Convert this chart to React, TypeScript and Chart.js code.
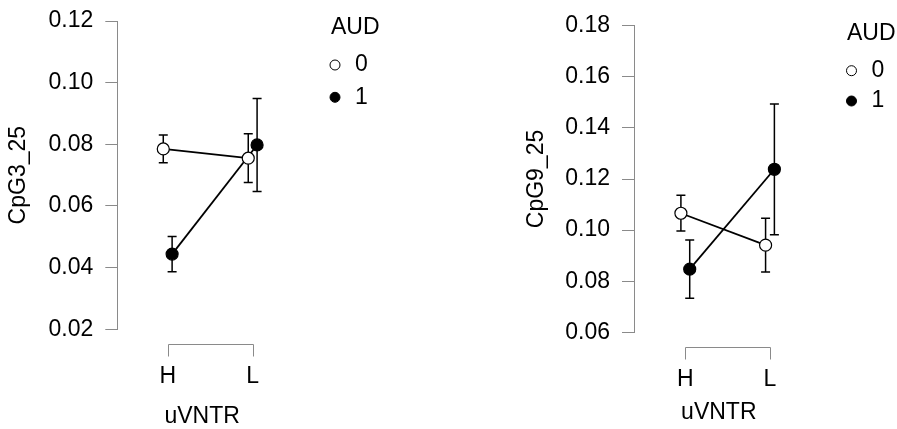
import React, { useEffect, useRef } from 'react';
import { Chart, registerables } from 'chart.js';

Chart.register(...registerables);

const FONT = '"Liberation Sans", Arial, Helvetica, sans-serif';
Chart.defaults.font.family = FONT;

// ---------- data ----------
const CATEGORIES = ['H', 'L'];
const GROUP_LABELS = ['0', '1'];
const LEGEND_TITLE = 'AUD';
const X_TITLE = 'uVNTR';

// Panel 1: CpG3_25
const CPG3_TITLE = 'CpG3_25';
const CPG3_TICKS = [0.02, 0.04, 0.06, 0.08, 0.1, 0.12];
const CPG3_AUD0_MEAN = [0.0785, 0.0755];
const CPG3_AUD0_ERR = [0.0045, 0.0079];
const CPG3_AUD1_MEAN = [0.0444, 0.0798];
const CPG3_AUD1_ERR = [0.0057, 0.0151];

// Panel 2: CpG9_25
const CPG9_TITLE = 'CpG9_25';
const CPG9_TICKS = [0.06, 0.08, 0.1, 0.12, 0.14, 0.16, 0.18];
const CPG9_AUD0_MEAN = [0.1066, 0.0941];
const CPG9_AUD0_ERR = [0.007, 0.0105];
const CPG9_AUD1_MEAN = [0.0847, 0.1238];
const CPG9_AUD1_ERR = [0.0114, 0.0256];

// ---------- styling / layout ----------
const DODGE = 0.052;
const TEXT = '#000000';
const AXIS = '#8a8a8a';
const FS = 23;
const H = 429;

const PANELS = [
  {
    left: 0, width: 449,
    yTitle: CPG3_TITLE, ticks: CPG3_TICKS,
    means: [CPG3_AUD0_MEAN, CPG3_AUD1_MEAN], errs: [CPG3_AUD0_ERR, CPG3_AUD1_ERR],
    padL: 0, padT: 21, padR: 162, yWidth: 117.3, xHeight: 99.7,
    xMin: 0.407, xMax: 2.404, xTickPad: 36.2, xTitlePadB: 0.5,
    legend: { titleX: 331, titleY: 27.7, markerX: 335, textX: 355, itemY: 65, itemGap: 32.3 },
  },
  {
    left: 449, width: 448,
    yTitle: CPG9_TITLE, ticks: CPG9_TICKS,
    means: [CPG9_AUD0_MEAN, CPG9_AUD1_MEAN], errs: [CPG9_AUD0_ERR, CPG9_AUD1_ERR],
    padL: 69.3, padT: 25.7, padR: 93.4, yWidth: 115.7, xHeight: 96.7,
    xMin: 0.394, xMax: 2.397, xTickPad: 36.2, xTitlePadB: 5,
    legend: { titleX: 398, titleY: 33.3, markerX: 402.5, textX: 422.5, itemY: 70.7, itemGap: 30.3 },
  },
];

// ---------- plugins ----------
const errorBarPlugin = {
  id: 'errorBars',
  beforeDatasetsDraw(chart: any, _args: any, opts: any) {
    const ctx = chart.ctx;
    const yScale = chart.scales.y;
    ctx.save();
    ctx.strokeStyle = opts.color;
    ctx.lineWidth = opts.lineWidth;
    chart.data.datasets.forEach((ds: any, i: number) => {
      const meta = chart.getDatasetMeta(i);
      if (!ds.errors) return;
      meta.data.forEach((pt: any, j: number) => {
        const v = ds.data[j].y;
        const e = ds.errors[j];
        const x = pt.x;
        const yTop = yScale.getPixelForValue(v + e);
        const yBot = yScale.getPixelForValue(v - e);
        ctx.beginPath();
        ctx.moveTo(x, yTop);
        ctx.lineTo(x, yBot);
        ctx.moveTo(x - opts.capHalf, yTop);
        ctx.lineTo(x + opts.capHalf, yTop);
        ctx.moveTo(x - opts.capHalf, yBot);
        ctx.lineTo(x + opts.capHalf, yBot);
        ctx.stroke();
      });
    });
    ctx.restore();
  },
};

const bracketPlugin = {
  id: 'axisBracket',
  afterDraw(chart: any, _args: any, opts: any) {
    const ctx = chart.ctx;
    const xs = chart.scales.x;
    const t = xs.ticks;
    if (!t || !t.length) return;
    const x1 = Math.round(xs.getPixelForValue(t[0].value)) + 0.5;
    const x2 = Math.round(xs.getPixelForValue(t[t.length - 1].value)) + 0.5;
    const y = Math.round(chart.chartArea.bottom + opts.offset) + 0.5;
    ctx.save();
    ctx.strokeStyle = opts.color;
    ctx.lineWidth = 1;
    ctx.beginPath();
    ctx.moveTo(x1, y + opts.tickLength);
    ctx.lineTo(x1, y);
    ctx.lineTo(x2, y);
    ctx.lineTo(x2, y + opts.tickLength);
    ctx.stroke();
    ctx.restore();
  },
};

const groupLegendPlugin = {
  id: 'groupLegend',
  afterDraw(chart: any, _args: any, opts: any) {
    const ctx = chart.ctx;
    ctx.save();
    ctx.font = `${opts.fontSize}px ${FONT}`;
    ctx.textBaseline = 'middle';
    ctx.textAlign = 'left';
    ctx.fillStyle = opts.color;
    ctx.fillText(opts.text, opts.titleX, opts.titleY);
    chart.data.datasets.forEach((ds: any, i: number) => {
      const y = opts.itemY + i * opts.itemGap;
      ctx.beginPath();
      ctx.arc(opts.markerX, y, opts.radius, 0, Math.PI * 2);
      ctx.fillStyle = ds.pointBackgroundColor;
      ctx.fill();
      ctx.lineWidth = 1;
      ctx.strokeStyle = ds.pointBorderColor;
      ctx.stroke();
      ctx.fillStyle = opts.color;
      ctx.fillText(ds.label, opts.textX, y);
    });
    ctx.restore();
  },
};

function buildConfig(p: any): any {
  const fills = ['#ffffff', '#000000'];
  const datasets = GROUP_LABELS.map((g, gi) => ({
    label: g,
    data: CATEGORIES.map((_c, i) => ({ x: i + 1 + (gi === 0 ? -DODGE : DODGE), y: p.means[gi][i] })),
    errors: p.errs[gi],
    showLine: true,
    borderColor: '#000000',
    borderWidth: 1.8,
    tension: 0,
    pointRadius: 6,
    pointBorderWidth: 1.2,
    pointBackgroundColor: fills[gi],
    pointBorderColor: '#000000',
    clip: false,
  }));
  return {
    type: 'line',
    data: { datasets },
    plugins: [errorBarPlugin, bracketPlugin, groupLegendPlugin],
    options: {
      responsive: false,
      animation: false,
      devicePixelRatio: 1,
      layout: { padding: { left: p.padL, top: p.padT, right: p.padR, bottom: 0 } },
      plugins: {
        legend: { display: false },
        tooltip: { enabled: false },
        title: { display: false },
        errorBars: { color: '#000000', lineWidth: 1.5, capHalf: 4.5 },
        axisBracket: { color: AXIS, offset: 15, tickLength: 12 },
        groupLegend: {
          text: LEGEND_TITLE, color: TEXT, fontSize: FS, radius: 5,
          ...p.legend,
        },
      },
      scales: {
        x: {
          type: 'linear',
          min: p.xMin,
          max: p.xMax,
          afterBuildTicks: (s: any) => { s.ticks = CATEGORIES.map((_c, i) => ({ value: i + 1 })); },
          afterFit: (s: any) => { s.height = p.xHeight; },
          ticks: {
            callback: (v: any) => CATEGORIES[Math.round(Number(v)) - 1] ?? '',
            font: { family: FONT, size: FS, lineHeight: 1 },
            color: TEXT,
            padding: p.xTickPad,
            maxRotation: 0,
            autoSkip: false,
          },
          grid: { display: false, drawTicks: false },
          border: { display: false },
          title: {
            display: true, text: X_TITLE, color: TEXT,
            font: { family: FONT, size: FS, lineHeight: 1 },
            padding: { top: 0, bottom: p.xTitlePadB },
          },
        },
        y: {
          type: 'linear',
          min: p.ticks[0],
          max: p.ticks[p.ticks.length - 1],
          afterBuildTicks: (s: any) => { s.ticks = p.ticks.map((v: number) => ({ value: v })); },
          afterFit: (s: any) => { s.width = p.yWidth; },
          ticks: {
            callback: (v: any) => Number(v).toFixed(2),
            font: { family: FONT, size: FS, lineHeight: 0.7 },
            color: TEXT,
            padding: 12,
          },
          grid: { drawOnChartArea: false, drawTicks: true, tickLength: 12, color: AXIS, lineWidth: 1 },
          border: { display: true, color: AXIS, width: 1 },
          title: {
            display: true, text: p.yTitle, color: TEXT,
            font: { family: FONT, size: FS, lineHeight: 1 },
            padding: { top: 7, bottom: 0 },
          },
        },
      },
    },
  };
}

function Panel({ p }: { p: any }) {
  const ref = useRef<HTMLCanvasElement | null>(null);
  useEffect(() => {
    if (!ref.current) return;
    const chart = new Chart(ref.current, buildConfig(p));
    return () => chart.destroy();
  }, [p]);
  return (
    <canvas
      ref={ref}
      width={p.width}
      height={H}
      style={{ position: 'absolute', left: p.left, top: 0, width: p.width, height: H, display: 'block' }}
    />
  );
}

export default function App() {
  return (
    <div style={{ position: 'absolute', left: 0, top: 0, width: 897, height: H, background: '#ffffff', overflow: 'hidden' }}>
      {PANELS.map((p, i) => <Panel key={i} p={p} />)}
    </div>
  );
}
